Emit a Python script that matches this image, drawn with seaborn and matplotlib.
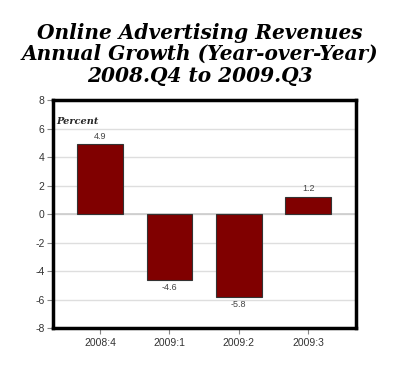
import matplotlib
matplotlib.use("Agg")
import pandas as pd
import seaborn as sns
import matplotlib.pyplot as plt

quarters = ["2008:4", "2009:1", "2009:2", "2009:3"]
growth = [4.9, -4.6, -5.8, 1.2]
yticks = [-8, -6, -4, -2, 0, 2, 4, 6, 8]

df = pd.DataFrame({"Quarter": quarters, "Growth": growth})

sns.set_style("white")
plt.rcParams["font.family"] = ["Liberation Sans", "DejaVu Sans"]

fig = plt.figure(figsize=(4, 3.69), dpi=100)
ax = fig.add_axes([0.1325, 0.111, 0.7575, 0.618])

sns.barplot(data=df, x="Quarter", y="Growth", color="#800000", saturation=1,
            width=0.66, edgecolor="#333333", linewidth=0.8, ax=ax, zorder=3)

ax.set_ylim(-8, 8)
ax.set_xlim(-0.68, 3.69)
ax.set_yticks(yticks)
ax.set_yticklabels([str(t) for t in yticks], fontsize=7.5, color="#333333")
ax.yaxis.grid(True, color="#dedede", linewidth=1, zorder=0)
ax.axhline(0, color="#cccccc", linewidth=1.2, zorder=1)
ax.set_axisbelow(True)
ax.tick_params(axis="y", length=4, color="#888888", pad=2, left=True)
ax.tick_params(axis="x", length=4, color="#888888", labelsize=7.5,
               labelcolor="#333333", bottom=True, pad=3)
ax.set_xlabel("")
ax.set_ylabel("")

for s in ax.spines.values():
    s.set_visible(True)
    s.set_color("black")
    s.set_linewidth(2.5)

for i, v in enumerate(growth):
    off = 0.25 if v > 0 else -0.25
    ax.text(i, v + off, f"{v}", ha="center", va="bottom" if v > 0 else "top",
            fontsize=6.5, color="#444444")

ax.text(0.01, 0.905, "Percent", transform=ax.transAxes, fontsize=7,
        fontweight="bold", fontstyle="italic", family="DejaVu Serif",
        ha="left", va="center")

fig.text(0.5, 0.853, "Online Advertising Revenues\nAnnual Growth (Year-over-Year)\n2008.Q4 to 2009.Q3",
         ha="center", va="center", fontsize=14.5, fontweight="bold",
         fontstyle="italic", family="DejaVu Serif", linespacing=1.08,
         color="black")

fig.savefig("out.png", dpi=100, facecolor="white")
